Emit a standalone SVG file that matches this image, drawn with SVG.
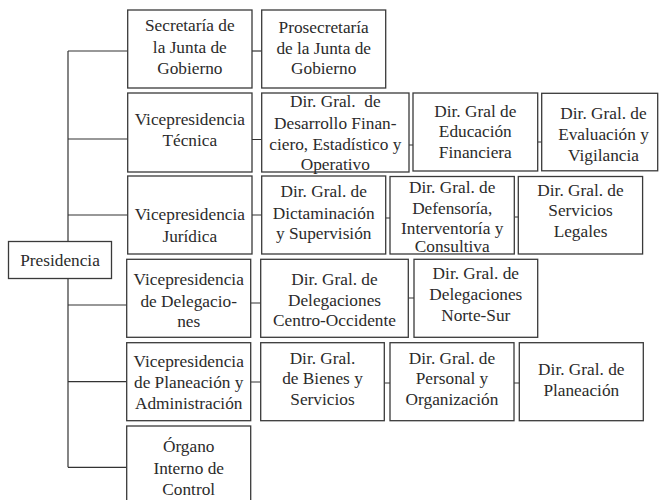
<svg xmlns="http://www.w3.org/2000/svg" width="659" height="500" viewBox="0 0 659 500">
<style>
.box{fill:#fff;stroke:#3a3a3a;stroke-width:1.3}
.lbl{font-size:17.3px;fill:#2b2b2b;text-anchor:middle}
.ln{fill:none;stroke:#333;stroke-width:1.2}
</style>
<rect width="659" height="500" fill="#fff"/>
<g id="connectors" class="ln">
<path d="M68,51 V467.3"/>
<path d="M68,51 H127.7 M68,139 H127.7 M68,215 H127.7 M68,305 H126.7 M68,381.7 H126.7 M68,467.3 H126.7"/>
<path d="M252,51 H261.7"/>
<path d="M252,139.5 H261.7 M409,145 H413 M537.7,142 H541.7"/>
<path d="M252,215 H261.7 M385.7,218 H390 M514.3,217 H518.3"/>
<path d="M250.7,303 H260.7 M408.3,298 H414"/>
<path d="M250.7,382 H260.7 M384.3,383 H390 M514,383 H519.3"/>
</g>
<g id="presidencia"><rect class="box" x="8.5" y="241.5" width="103" height="37"/><text class="lbl" font-family="Liberation Serif" x="60" y="265.5">Presidencia</text></g>
<g id="secretaria"><rect class="box" x="127.7" y="10" width="124.3" height="78"/><text class="lbl" font-family="Liberation Serif" x="189.8" y="31">Secretaría de</text><text class="lbl" font-family="Liberation Serif" x="189.8" y="52.5">la Junta de</text><text class="lbl" font-family="Liberation Serif" x="189.8" y="73.5">Gobierno</text></g>
<g id="prosecretaria"><rect class="box" x="261.7" y="10" width="124" height="78"/><text class="lbl" font-family="Liberation Serif" x="323.7" y="32.5">Prosecretaría</text><text class="lbl" font-family="Liberation Serif" x="323.7" y="53.5">de la Junta de</text><text class="lbl" font-family="Liberation Serif" x="323.7" y="74">Gobierno</text></g>
<g id="vp-tecnica"><rect class="box" x="127.7" y="93" width="124.3" height="79"/><text class="lbl" font-family="Liberation Serif" x="189.8" y="124.5">Vicepresidencia</text><text class="lbl" font-family="Liberation Serif" x="189.8" y="146">Técnica</text></g>
<g id="dg-desarrollo"><rect class="box" x="261.7" y="93" width="147.3" height="79"/><text class="lbl" font-family="Liberation Serif" x="335.3" y="107">Dir. Gral.&#160; de</text><text class="lbl" font-family="Liberation Serif" x="335.3" y="128.5">Desarrollo Finan-</text><text class="lbl" font-family="Liberation Serif" x="335.3" y="149.5">ciero, Estadístico y</text><text class="lbl" font-family="Liberation Serif" x="335.3" y="169.5">Operativo</text></g>
<g id="dg-educacion"><rect class="box" x="413" y="93" width="124.7" height="78"/><text class="lbl" font-family="Liberation Serif" x="475.3" y="116.5">Dir. Gral de</text><text class="lbl" font-family="Liberation Serif" x="475.3" y="137">Educación</text><text class="lbl" font-family="Liberation Serif" x="475.3" y="157.5">Financiera</text></g>
<g id="dg-evaluacion"><rect class="box" x="541.7" y="93.3" width="116" height="77.5"/><text class="lbl" font-family="Liberation Serif" x="603.5" y="118.5">Dir. Gral. de</text><text class="lbl" font-family="Liberation Serif" x="603.5" y="139.5">Evaluación y</text><text class="lbl" font-family="Liberation Serif" x="603.5" y="160.5">Vigilancia</text></g>
<g id="vp-juridica"><rect class="box" x="127.7" y="176" width="124.3" height="78"/><text class="lbl" font-family="Liberation Serif" x="189.8" y="220">Vicepresidencia</text><text class="lbl" font-family="Liberation Serif" x="189.8" y="241.5">Jurídica</text></g>
<g id="dg-dictaminacion"><rect class="box" x="261.7" y="176" width="124" height="78"/><text class="lbl" font-family="Liberation Serif" x="323.7" y="197">Dir. Gral. de</text><text class="lbl" font-family="Liberation Serif" x="323.7" y="218.5">Dictaminación</text><text class="lbl" font-family="Liberation Serif" x="323.7" y="238.5">y Supervisión</text></g>
<g id="dg-defensoria"><rect class="box" x="390" y="176.5" width="124.3" height="77.5"/><text class="lbl" font-family="Liberation Serif" x="452.2" y="193">Dir. Gral. de</text><text class="lbl" font-family="Liberation Serif" x="452.2" y="213.5">Defensoría,</text><text class="lbl" font-family="Liberation Serif" x="452.2" y="234">Interventoría y</text><text class="lbl" font-family="Liberation Serif" x="452.2" y="252">Consultiva</text></g>
<g id="dg-servicios-legales"><rect class="box" x="518.3" y="176.5" width="124.3" height="77.5"/><text class="lbl" font-family="Liberation Serif" x="580.5" y="195.5">Dir. Gral. de</text><text class="lbl" font-family="Liberation Serif" x="580.5" y="216">Servicios</text><text class="lbl" font-family="Liberation Serif" x="580.5" y="237">Legales</text></g>
<g id="vp-delegaciones"><rect class="box" x="126.7" y="259.3" width="124" height="78"/><text class="lbl" font-family="Liberation Serif" x="188.7" y="285">Vicepresidencia</text><text class="lbl" font-family="Liberation Serif" x="188.7" y="306.5">de Delegacio-</text><text class="lbl" font-family="Liberation Serif" x="188.7" y="327">nes</text></g>
<g id="dg-centro-occidente"><rect class="box" x="260.7" y="259.3" width="147.6" height="78"/><text class="lbl" font-family="Liberation Serif" x="334.5" y="285">Dir. Gral. de</text><text class="lbl" font-family="Liberation Serif" x="334.5" y="305.5">Delegaciones</text><text class="lbl" font-family="Liberation Serif" x="334.5" y="325.5">Centro-Occidente</text></g>
<g id="dg-norte-sur"><rect class="box" x="414" y="259.3" width="123.7" height="78"/><text class="lbl" font-family="Liberation Serif" x="475.8" y="279">Dir. Gral. de</text><text class="lbl" font-family="Liberation Serif" x="475.8" y="300">Delegaciones</text><text class="lbl" font-family="Liberation Serif" x="475.8" y="321">Norte-Sur</text></g>
<g id="vp-planeacion"><rect class="box" x="126.7" y="342.7" width="124" height="78"/><text class="lbl" font-family="Liberation Serif" x="188.7" y="366.5">Vicepresidencia</text><text class="lbl" font-family="Liberation Serif" x="188.7" y="387.5">de Planeación y</text><text class="lbl" font-family="Liberation Serif" x="188.7" y="409">Administración</text></g>
<g id="dg-bienes"><rect class="box" x="260.7" y="342.7" width="123.6" height="78"/><text class="lbl" font-family="Liberation Serif" x="322.5" y="363.5">Dir. Gral.</text><text class="lbl" font-family="Liberation Serif" x="322.5" y="384">de Bienes y</text><text class="lbl" font-family="Liberation Serif" x="322.5" y="404.5">Servicios</text></g>
<g id="dg-personal"><rect class="box" x="390" y="342.7" width="124" height="78"/><text class="lbl" font-family="Liberation Serif" x="452" y="363.5">Dir. Gral. de</text><text class="lbl" font-family="Liberation Serif" x="452" y="384">Personal y</text><text class="lbl" font-family="Liberation Serif" x="452" y="404.5">Organización</text></g>
<g id="dg-planeacion"><rect class="box" x="519.3" y="342.7" width="124" height="78"/><text class="lbl" font-family="Liberation Serif" x="581.3" y="375">Dir. Gral. de</text><text class="lbl" font-family="Liberation Serif" x="581.3" y="396">Planeación</text></g>
<g id="organo-control"><rect class="box" x="126.7" y="426" width="124" height="80"/><text class="lbl" font-family="Liberation Serif" x="188.7" y="451.5">Órgano</text><text class="lbl" font-family="Liberation Serif" x="188.7" y="473.5">Interno de</text><text class="lbl" font-family="Liberation Serif" x="188.7" y="495">Control</text></g>
</svg>
